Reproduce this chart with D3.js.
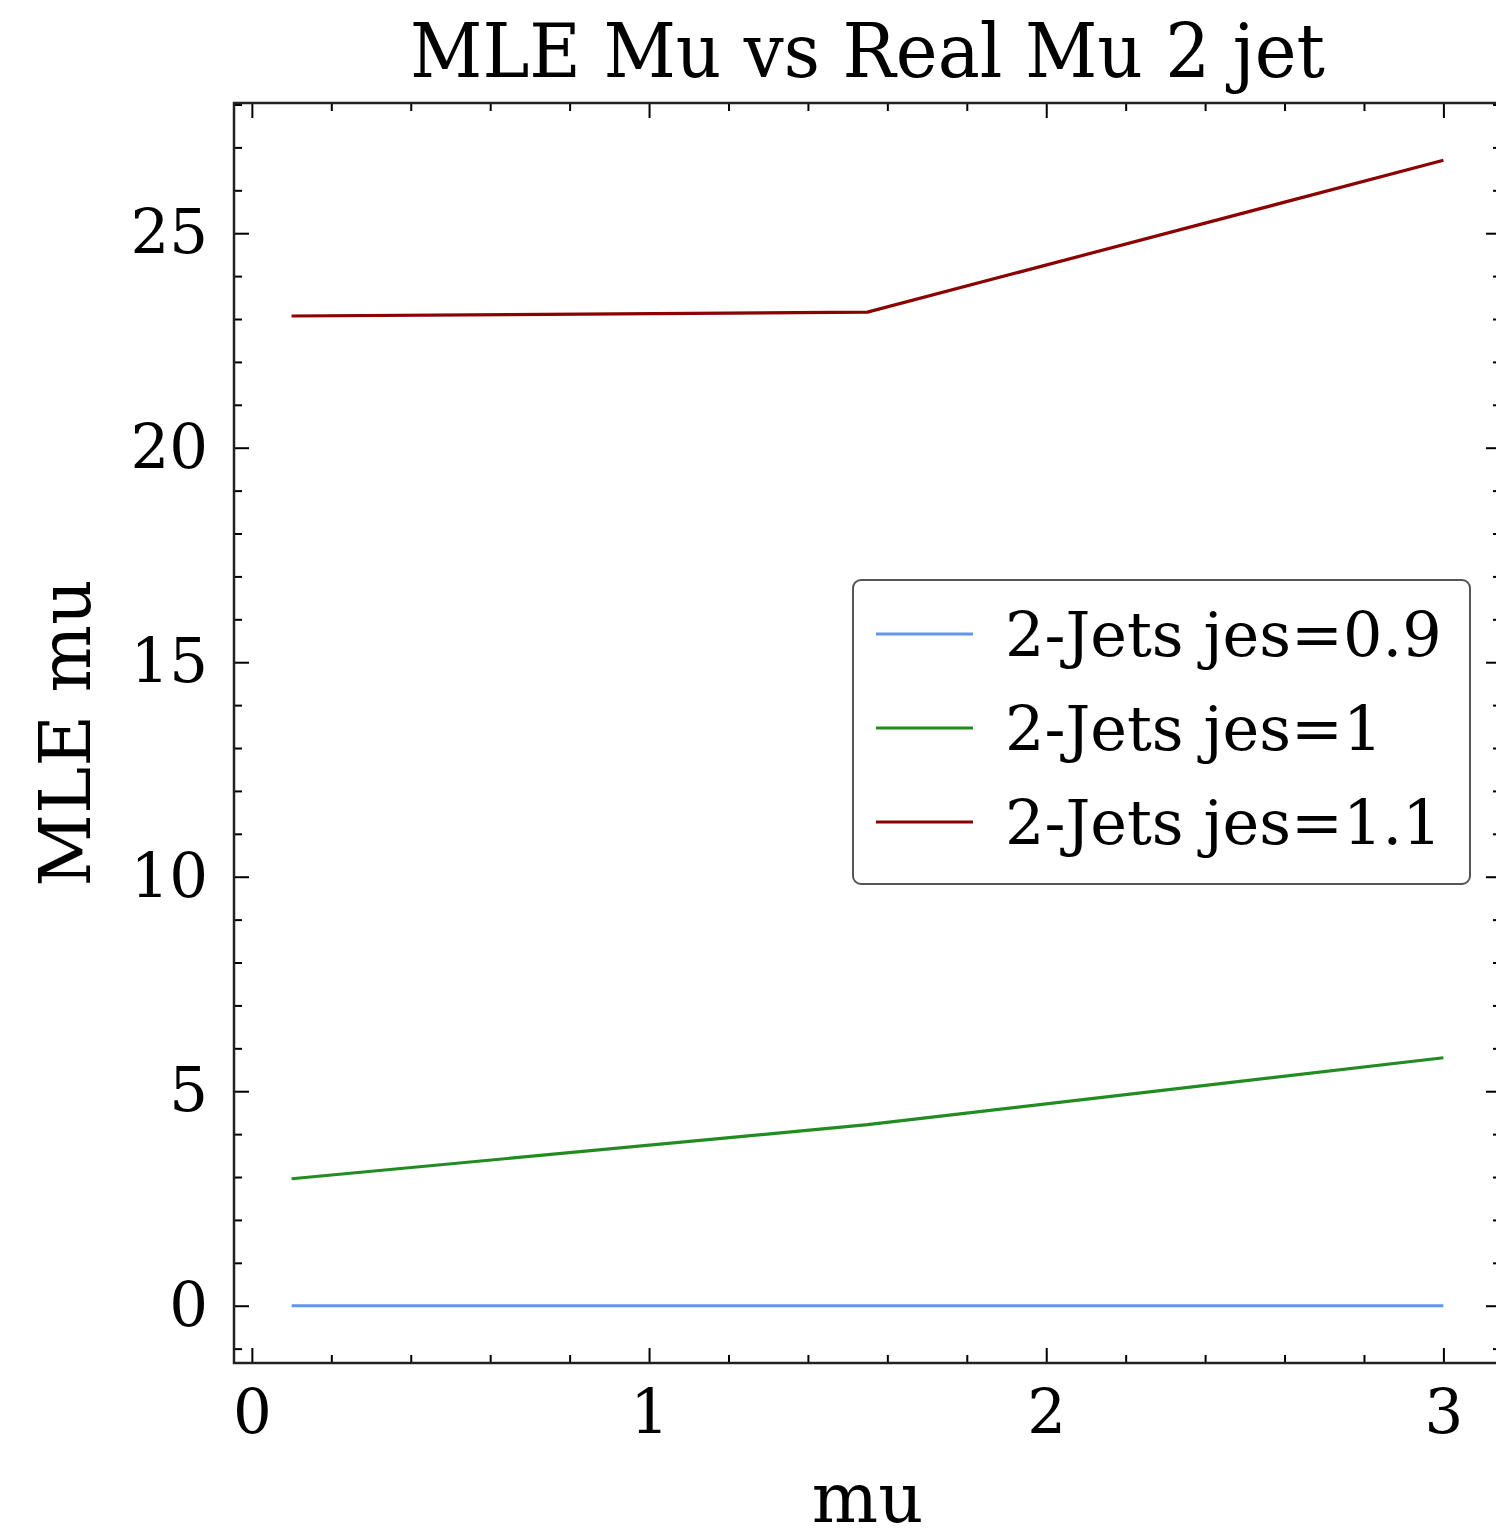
<!DOCTYPE html>
<html>
<head>
<meta charset="utf-8">
<script src="https://cdn.jsdelivr.net/npm/d3@7"></script>
<style>
  body { margin: 0; background: #fff; }
  text { font-family: "DejaVu Serif", serif; fill: #000; }
</style>
</head>
<body>
<div id="chart"></div>
<script>
// data
var muReal = [0.1, 1.55, 3.0];
var jes09 = [0.0, 0.0, 0.0];
var jes10 = [2.96, 4.22, 5.78];
var jes11 = [23.07, 23.16, 26.70];
var seriesNames = ["2-Jets jes=0.9", "2-Jets jes=1", "2-Jets jes=1.1"];
var seriesColors = ["#6495ed", "#228b22", "#8b0000"];
var xTicks = [0, 1, 2, 3];
var yTicks = [0, 5, 10, 15, 20, 25];

var svgWidth = 1496, svgHeight = 1536;
var margin = { top: 103, left: 234, right: -5, bottom: 173 };
var chartWidth = svgWidth - margin.left - margin.right;
var chartHeight = svgHeight - margin.top - margin.bottom;

var svg = d3.select("#chart").append("svg")
  .attr("width", svgWidth)
  .attr("height", svgHeight);

var chartGroup = svg.append("g")
  .attr("transform", `translate(${margin.left}, ${margin.top})`);

// scales, with matplotlib style 5% margins
var xScale = d3.scaleLinear().domain([-0.045, 3.145]).range([0, chartWidth]);
var yScale = d3.scaleLinear().domain([-1.335, 28.035]).range([chartHeight, 0]);

var majorLen = 15, minorLen = 8;
var xMinor = d3.range(-0.0, 3.15, 0.2).filter(v => Math.abs(v - Math.round(v)) > 1e-6);
var yMinor = d3.range(-1, 28.1, 1).filter(v => v % 5 !== 0);

// bottom axis (ticks inside)
var bottomAxis = d3.axisBottom(xScale).tickValues(xTicks).tickSize(-majorLen).tickPadding(27).tickFormat(d3.format("d"));
var xAxis = chartGroup.append("g")
  .attr("transform", `translate(0, ${chartHeight})`)
  .call(bottomAxis);
xAxis.append("g").call(d3.axisBottom(xScale).tickValues(xMinor).tickSize(-minorLen).tickFormat(""));

var leftAxis = d3.axisLeft(yScale).tickValues(yTicks).tickSize(-majorLen).tickPadding(26).tickFormat(d3.format("d"));
var yAxis = chartGroup.append("g").call(leftAxis);
yAxis.append("g").call(d3.axisLeft(yScale).tickValues(yMinor).tickSize(-minorLen).tickFormat(""));

// top and right ticks
var topAxis = chartGroup.append("g").call(d3.axisTop(xScale).tickValues(xTicks).tickSize(-majorLen).tickFormat(""));
topAxis.append("g").call(d3.axisTop(xScale).tickValues(xMinor).tickSize(-minorLen).tickFormat(""));
var rightAxis = chartGroup.append("g").attr("transform", `translate(${chartWidth}, 0)`)
  .call(d3.axisRight(yScale).tickValues(yTicks).tickSize(-majorLen).tickFormat(""));
rightAxis.append("g").call(d3.axisRight(yScale).tickValues(yMinor).tickSize(-minorLen).tickFormat(""));

chartGroup.selectAll(".domain").remove();
chartGroup.selectAll(".tick line").attr("stroke", "#000").attr("stroke-width", 2);
chartGroup.selectAll(".tick text").style("font-size", "61px").attr("fill", "#000");

// frame
chartGroup.append("rect")
  .attr("width", chartWidth).attr("height", chartHeight)
  .attr("fill", "none").attr("stroke", "#222").attr("stroke-width", 2.5);

// lines
var allSeries = [jes09, jes10, jes11];
var line = d3.line().x((d, i) => xScale(muReal[i])).y(d => yScale(d));
allSeries.forEach(function(vals, k) {
  chartGroup.append("path")
    .datum(vals)
    .attr("d", line)
    .attr("fill", "none")
    .attr("stroke", seriesColors[k])
    .attr("stroke-width", 3.2);
});

// legend
var legend = chartGroup.append("g").attr("transform", `translate(${853 - margin.left}, ${580 - margin.top})`);
legend.append("rect")
  .attr("width", 617).attr("height", 304).attr("rx", 8)
  .attr("fill", "#fff").attr("stroke", "#555").attr("stroke-width", 2);
seriesNames.forEach(function(name, k) {
  var yy = 54 + k * 94;
  legend.append("line")
    .attr("x1", 23).attr("x2", 120).attr("y1", yy).attr("y2", yy)
    .attr("stroke", seriesColors[k]).attr("stroke-width", 3.2);
  legend.append("text")
    .attr("x", 152).attr("y", yy + 22)
    .style("font-size", "62px")
    .text(name);
});

// title and axis labels
var cx = margin.left + chartWidth / 2;
svg.append("text")
  .attr("x", cx).attr("y", 77)
  .attr("text-anchor", "middle")
  .style("font-size", "74px")
  .attr("textLength", 915)
  .attr("lengthAdjust", "spacingAndGlyphs")
  .text("MLE Mu vs Real Mu 2 jet");

svg.append("text")
  .attr("x", cx).attr("y", 1522)
  .attr("text-anchor", "middle")
  .style("font-size", "70px")
  .text("mu");

svg.append("text")
  .attr("transform", `translate(90, ${margin.top + chartHeight / 2}) rotate(-90)`)
  .attr("text-anchor", "middle")
  .style("font-size", "71px")
  .text("MLE mu");
</script>
</body>
</html>
